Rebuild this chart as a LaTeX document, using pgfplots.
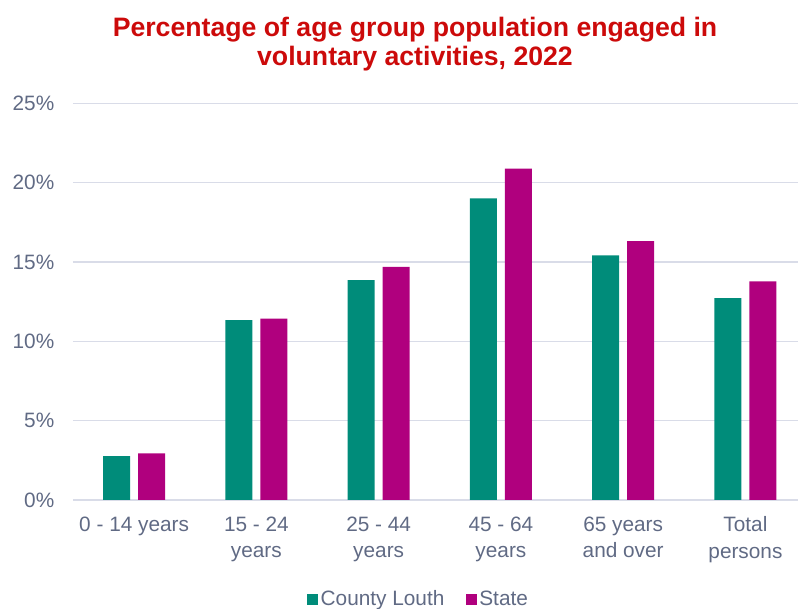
\documentclass[border=0pt]{standalone}
\usepackage{fontspec}
\setmainfont{Liberation Sans}
\usepackage{pgfplots}
\pgfplotsset{compat=1.18}

\definecolor{louth}{RGB}{0,140,122}
\definecolor{state}{RGB}{176,0,126}
\definecolor{gridc}{RGB}{217,220,232}
\definecolor{labc}{RGB}{96,106,132}
\definecolor{titlec}{RGB}{204,10,10}

\begin{document}
\begin{tikzpicture}
  \begin{axis}[
    at={(0,0)}, anchor=south west,
    scale only axis,
    width=543.75pt, height=297.5pt,
    xmin=-0.5, xmax=5.43,
    ymin=0, ymax=25,
    axis line style={draw=none},
    major tick length=0pt,
    ymajorgrids,
    grid style={gridc, line width=0.9pt},
    ytick={0,5,10,15,20,25},
    yticklabels={0\%,5\%,10\%,15\%,20\%,25\%},
    xtick={0,1,2,3,4,5},
    xticklabels={{0 - 14 years},{15 - 24\\years},{25 - 44\\years},
      {45 - 64\\years},{65 years\\and over},{Total\\persons}},
    ticklabel style={font=\fontsize{15.6pt}{20pt}\selectfont, text=labc},
    yticklabel style={anchor=east, xshift=-10.5pt},
    xticklabel style={anchor=north, align=center, yshift=-9pt},
    ybar, bar width=0.221,
    legend style={at={(0.477,-0.25)}, anchor=center, draw=none,
      legend columns=-1, font=\fontsize{15.6pt}{18pt}\selectfont,
      text=labc, /tikz/every even column/.append style={column sep=14pt}},
    legend image code/.code={\fill[#1] (0pt,-4.1pt) rectangle (8.2pt,4.1pt);},
  ]
    \addplot[fill=louth, draw=none, bar shift=-0.143] coordinates {
      (0,2.77) (1,11.34) (2,13.86) (3,19.01) (4,15.42) (5,12.73)
    };
    \addlegendentry{County Louth}
    \addplot[fill=state, draw=none, bar shift=0.143] coordinates {
      (0,2.94) (1,11.43) (2,14.70) (3,20.88) (4,16.32) (5,13.78)
    };
    \addlegendentry{State}
  \end{axis}
  \node[align=center, text=titlec, font=\fontsize{20pt}{21.75pt}\selectfont\bfseries]
    at (256.5pt,341.6pt) {Percentage of age group population engaged in\\voluntary activities, 2022};
  \pgfresetboundingbox
  \path[use as bounding box] (-54.75pt,-81.75pt) rectangle (543.75pt,375pt);
\end{tikzpicture}
\end{document}
